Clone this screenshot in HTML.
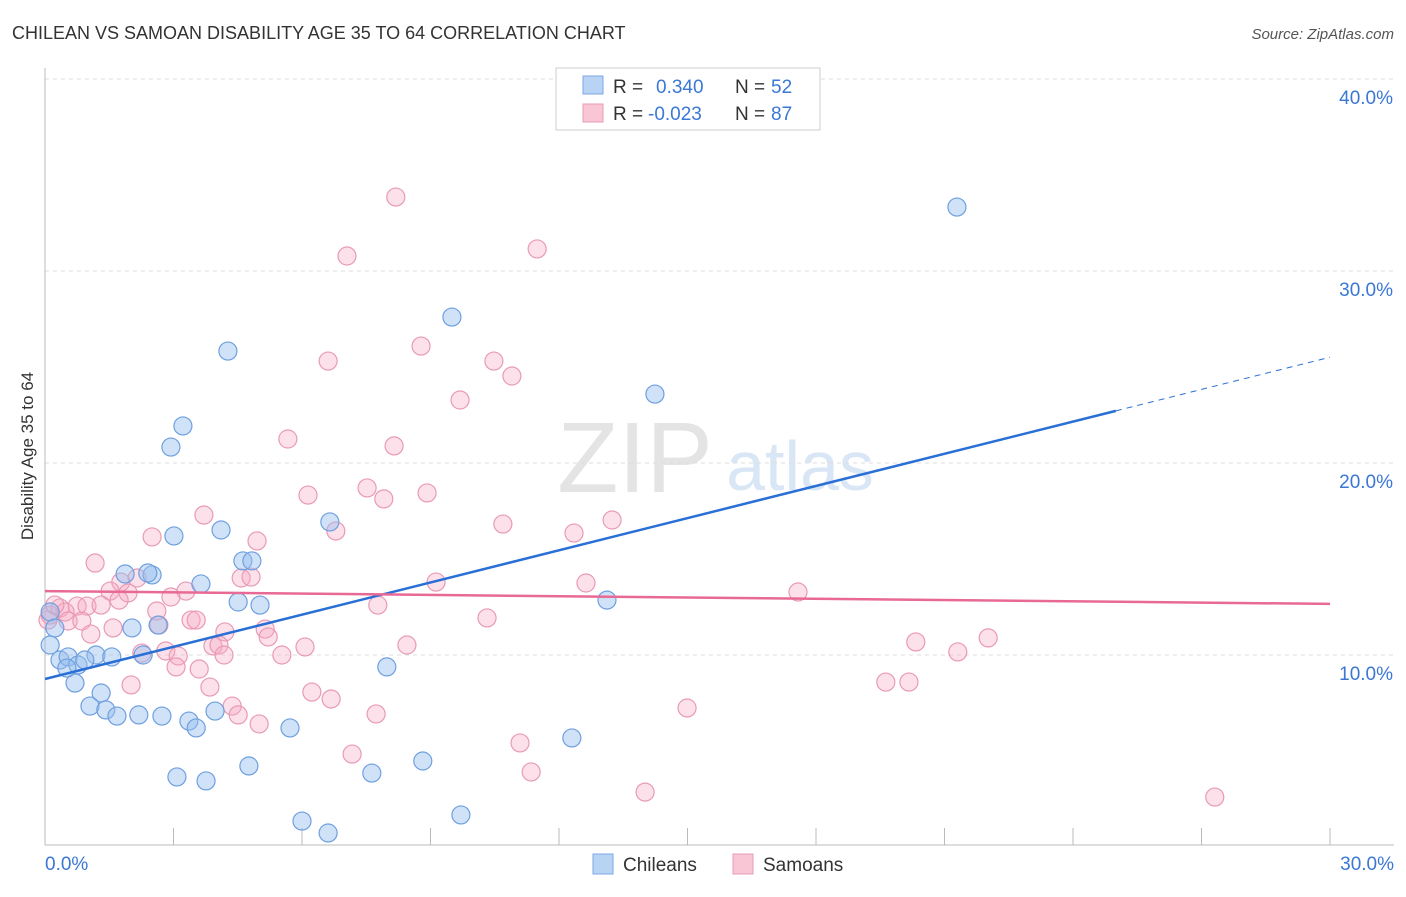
<!DOCTYPE html>
<html><head><meta charset="utf-8"><style>
body{margin:0;background:#fff;font-family:"Liberation Sans",sans-serif;}
svg text{font-family:"Liberation Sans",sans-serif;}
</style></head><body>
<svg id="chart" width="1406" height="892">
<text x="12" y="39" font-size="18" fill="#333">CHILEAN VS SAMOAN DISABILITY AGE 35 TO 64 CORRELATION CHART</text>
<text x="1394" y="39" font-size="15" fill="#555" text-anchor="end" font-style="italic">Source: ZipAtlas.com</text>
<text x="33" y="456" font-size="17" fill="#333" text-anchor="middle" transform="rotate(-90 33 456)">Disability Age 35 to 64</text>
<g><text x="635" y="492" font-size="100" fill="#e4e4e4" text-anchor="middle" font-family="Liberation Serif">ZIP</text><text x="800" y="490" font-size="70" fill="#d9e6f5" text-anchor="middle">atlas</text></g>
<g id="grid"></g><g id="axes"></g><g id="pts"></g><g id="lines"></g>
<g>
<rect x="556" y="68" width="264" height="62" fill="#fff" stroke="#ccc"/>
<rect x="583" y="76" width="20" height="18" fill="#b8d3f4" stroke="#7aa9e6"/>
<rect x="583" y="104" width="20" height="18" fill="#f9c6d5" stroke="#e89ab5"/>
<text x="613" y="93" font-size="19" fill="#333">R = </text><text x="656" y="93" font-size="19" fill="#3a78d4">0.340</text>
<text x="735" y="93" font-size="19" fill="#333">N = </text><text x="771" y="93" font-size="19" fill="#3a78d4">52</text>
<text x="613" y="120" font-size="19" fill="#333">R = </text><text x="648" y="120" font-size="19" fill="#3a78d4">-0.023</text>
<text x="735" y="120" font-size="19" fill="#333">N = </text><text x="771" y="120" font-size="19" fill="#3a78d4">87</text>
</g>
<g>
<rect x="593" y="854" width="20" height="20" fill="#b8d3f4" stroke="#7aa9e6"/><text x="623" y="871" font-size="19" fill="#333">Chileans</text>
<rect x="733" y="854" width="20" height="20" fill="#f9c6d5" stroke="#e89ab5"/><text x="763" y="871" font-size="19" fill="#333">Samoans</text>
</g>
</svg>
<script>
const yTicks=[10,20,30,40];
const yTickLabels=["10.0%","20.0%","30.0%","40.0%"];
const xTickLabels=["0.0%","30.0%"];
const blueX=[21.29,9.50,4.27,14.24,3.22,2.94,4.11,3.01,6.65,4.62,4.83,1.87,2.50,2.40,3.64,4.51,5.02,13.12,0.12,0.23,2.03,2.64,0.12,0.35,0.54,0.77,1.19,1.56,2.29,7.98,0.70,1.31,1.05,1.42,1.68,2.19,2.73,3.36,3.53,3.97,5.72,12.30,8.82,4.76,7.63,3.08,3.76,6.00,6.61,9.71,0.93,0.51];
const blueY=[33.33,27.6,25.83,23.59,21.93,20.83,16.51,16.20,16.93,14.90,14.90,14.22,14.17,14.27,13.70,12.76,12.60,12.86,12.24,11.41,11.41,11.56,10.52,9.74,9.90,9.48,10.0,9.90,10.0,9.38,8.54,8.02,7.34,7.14,6.82,6.88,6.82,6.56,6.20,7.08,6.20,5.68,4.48,4.22,3.85,3.65,3.44,1.35,0.73,1.67,9.74,9.32];
const pinkX=[8.19,11.49,7.05,8.78,6.61,10.48,10.90,9.69,5.67,8.15,6.14,7.52,7.91,8.92,3.71,10.69,6.79,13.24,12.35,2.50,4.95,1.17,4.58,4.81,2.15,1.77,3.29,9.13,12.63,17.58,1.52,1.94,1.73,2.94,7.77,0.35,0.75,0.98,1.31,0.47,2.61,0.07,0.54,0.86,3.41,3.53,2.66,10.32,1.59,4.20,5.14,1.07,5.21,3.92,4.06,6.07,8.45,2.82,2.26,4.18,3.11,5.53,20.33,22.02,21.31,3.06,3.60,2.01,3.85,19.63,20.17,6.23,6.68,4.37,4.51,7.73,14.99,5.00,11.09,7.17,11.35,14.01,27.31,0.12,0.23];
const pinkY=[33.85,31.15,30.78,26.09,25.31,25.31,24.53,23.28,21.25,20.89,18.33,18.70,18.13,18.44,17.29,16.82,16.46,17.03,16.35,16.15,15.94,14.79,14.01,14.06,14.01,13.80,13.33,13.80,13.75,13.28,13.33,13.23,12.86,13.02,12.60,12.45,12.55,12.55,12.60,12.24,12.29,11.82,11.77,11.77,11.82,11.82,11.56,11.93,11.41,11.20,11.35,11.09,10.94,10.47,10.52,10.42,10.52,10.21,10.10,10.0,9.95,10.0,10.68,10.89,10.16,9.38,9.27,8.44,8.33,8.59,8.59,8.07,7.71,7.34,6.88,6.93,7.24,6.41,5.42,4.84,3.91,2.86,2.60,12.08,12.60];
const blueTrend=[8.75,0.5586]; // intercept, slope
const pinkTrend=[13.33,-0.0223];
const NS="http://www.w3.org/2000/svg";
const X=v=>45+v*1285/30, Y=v=>847-v*19.2;
function mk(tag,attrs,parent){const e=document.createElementNS(NS,tag);for(const k in attrs)e.setAttribute(k,attrs[k]);document.getElementById(parent).appendChild(e);return e;}
yTicks.forEach((t,i)=>{
 const l=mk('line',{x1:45,x2:1394,y1:Y(t),y2:Y(t),stroke:'#ddd','stroke-dasharray':'4,4'},'grid');
 
 
 const tx=mk('text',{x:1393,y:Y(t)+25,'font-size':19,fill:'#3a78d4','text-anchor':'end'},'grid');tx.textContent=yTickLabels[i];
 
 
});
let a=mk('line',{x1:45,x2:45,y1:68,y2:845,stroke:'#bbb'},'axes');


a=mk('line',{x1:45,x2:1394,y1:845,y2:845,stroke:'#bbb'},'axes');


for(let i=1;i<=10;i++){const t=mk('line',{x1:X(i*3),x2:X(i*3),y1:828,y2:845,stroke:'#bbb'},'axes');
 
 }
let t0=mk('text',{x:45,y:870,'font-size':19,fill:'#3a78d4'},'axes');t0.textContent=xTickLabels[0];


t0=mk('text',{x:1394,y:870,'font-size':19,fill:'#3a78d4','text-anchor':'end'},'axes');t0.textContent=xTickLabels[1];


function pts(xs,ys,fill,stroke,name){xs.forEach((x,i)=>{const c=mk('circle',{cx:X(x),cy:Y(ys[i]),r:9,fill:fill,stroke:stroke,'stroke-width':1.2},'pts');
 
 });}
pts(pinkX,pinkY,'rgba(245,170,195,0.35)','#e99ab4','samoan-point');
pts(blueX,blueY,'rgba(150,190,238,0.45)','#6f9fe0','chilean-point');
let ln=mk('line',{x1:X(0),y1:Y(blueTrend[0]),x2:X(25),y2:Y(blueTrend[0]+blueTrend[1]*25),stroke:'#2a6fd6','stroke-width':2.5},'lines');


ln=mk('line',{x1:X(25),y1:Y(blueTrend[0]+blueTrend[1]*25),x2:X(30),y2:Y(blueTrend[0]+blueTrend[1]*30),stroke:'#2a6fd6','stroke-width':1,'stroke-dasharray':'6,5'},'lines');


ln=mk('line',{x1:X(0),y1:Y(pinkTrend[0]),x2:X(30),y2:Y(pinkTrend[0]+pinkTrend[1]*30),stroke:'#e86a94','stroke-width':2.5},'lines');


</script>
</body></html>
